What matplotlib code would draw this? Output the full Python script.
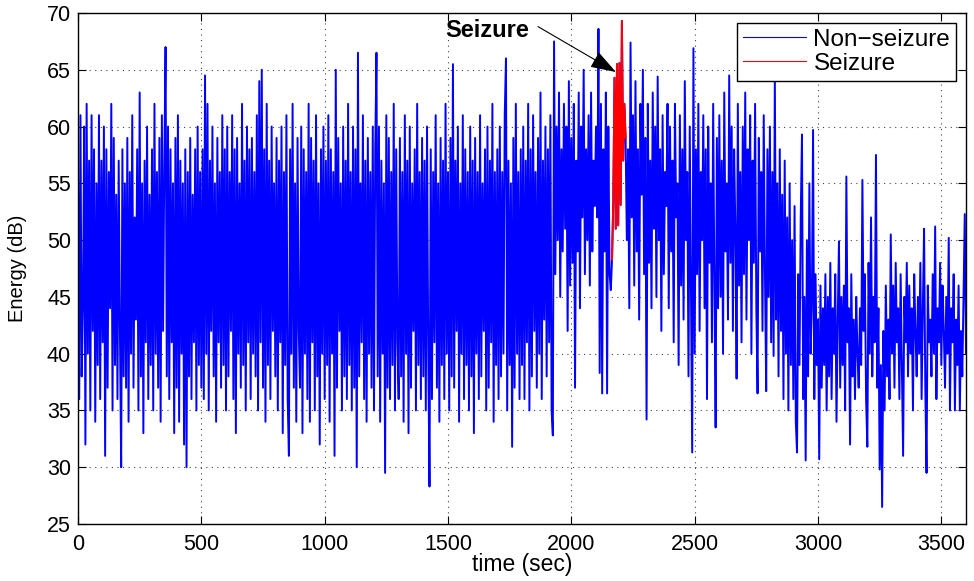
import numpy as np
import matplotlib
matplotlib.use("Agg")
import matplotlib.pyplot as plt
from matplotlib.lines import Line2D

plt.rcParams['font.family'] = ['Liberation Sans', 'DejaVu Sans']

# ---------------- data (energy in dB, one value every 5 s) ----------------
step_sec = 5
energy = [
    # 0-95
    56, 36, 61, 38, 44, 60, 32, 62, 40, 57, 35, 61, 42, 58, 34, 55, 39, 61, 36, 57,
    # 100-195
    41, 60, 31, 58, 37, 56, 44, 62, 35, 59, 39, 54, 36, 57, 42, 30, 58, 38, 55, 37,
    # 200-295
    59, 34, 56, 40, 61, 37, 52, 43, 58, 35, 63, 38, 55, 33, 57, 41, 60, 36, 54, 39,
    # 300-395
    58, 35, 62, 40, 56, 37, 59, 34, 61, 42, 57, 67, 38, 60, 36, 58, 41, 55, 33, 59,
    # 400-495
    37, 61, 34, 57, 40, 55, 32, 58, 30, 56, 38, 59, 36, 54, 41, 58, 35, 60, 39, 56,
    # 500-595
    37, 58, 36, 64.5, 40, 62, 35, 57, 42, 60, 38, 55, 34, 59, 41, 56, 37, 61, 39, 58,
    # 600-695
    35, 60, 38, 56, 42, 61, 36, 58, 33, 59, 40, 55, 37, 62, 39, 57, 35, 60, 41, 58,
    # 700-795
    36, 59, 40, 56, 38, 61, 35, 64, 41, 65, 37, 58, 34, 62, 39, 57, 36, 60, 42, 55,
    # 800-895
    38, 59, 35, 57, 41, 60, 33, 56, 39, 61, 36, 31, 58, 40, 62, 37, 55, 34, 59, 42,
    # 900-995
    37, 60, 33, 58, 40, 56, 36, 62, 34, 59, 41, 57, 35, 61, 38, 55, 32, 58, 40, 60,
    # 1000-1095
    36, 57, 39, 61, 34, 58, 40, 56, 31, 65, 37, 59, 42, 55, 35, 60, 38, 57, 36, 62,
    # 1100-1195
    39, 56, 35, 60, 37, 58, 30, 66.5, 38, 55, 41, 61, 36, 57, 34, 59, 40, 56, 37, 60,
    # 1200-1295
    35, 58, 66.5, 38, 60, 34, 57, 40, 55, 29.5, 61, 37, 59, 36, 56, 39, 62, 35, 58, 41,
    # 1300-1395
    36, 59, 38, 56, 34, 61, 40, 57, 33, 60, 37, 55, 42, 58, 35, 62, 39, 56, 36, 59,
    # 1400-1495
    38, 57, 35, 60, 40, 28.3, 58, 36, 56, 41, 61, 37, 55, 34, 59, 39, 57, 36, 62, 40,
    # 1500-1595
    56, 35, 59, 38, 65.5, 37, 57, 42, 60, 34, 55, 40, 61, 36, 58, 39, 56, 35, 60, 38,
    # 1600-1695
    57, 33, 59, 40, 56, 36, 61, 38, 55, 42, 58, 35, 60, 37, 57, 41, 62, 34, 56, 39,
    # 1700-1795
    58, 36, 60, 38, 56, 40, 61, 66, 35, 57, 39, 55, 31.8, 59, 37, 62, 40, 56, 36, 58,
    # 1800-1895
    39, 60, 36, 57, 41, 62, 35, 58, 38, 61, 42, 56, 37, 59, 40, 63, 36, 57, 43, 60,
    # 1900-1995
    38, 58, 41, 61, 35, 32.8, 67.5, 47, 60, 50, 63, 45, 58, 49, 62, 51, 60, 42, 64, 46,
    # 2000-2095
    59, 48, 62, 37, 57, 49, 63, 44, 60, 52, 65, 47, 58, 50, 61, 46, 63, 49, 57, 53,
    # 2100-2195
    60, 52, 68.6, 38.3, 62, 36.5, 58, 49, 63, 36.5, 60, 47, 45.6,
    48.3, 53.4, 64.3, 51.0, 65.5, 51.3, 65.6,
    # 2200-2295
    53.1, 69.3, 57, 62, 59, 50, 58, 44, 67.4, 52, 61, 46, 64, 49, 58, 43, 62, 54, 65, 47,
    # 2300-2395
    59, 34.2, 62, 48, 57, 44, 63, 51, 60, 45, 64.4, 50, 58, 42, 61, 47, 56, 53, 62, 44,
    # 2400-2495
    60, 49, 57, 41, 62, 52, 55, 39, 61, 46, 58, 43, 64, 50, 56, 38, 60, 45, 31.3, 66.9,
    # 2500-2595
    40, 58, 47, 62, 42, 56, 50, 61, 44, 58, 36, 60, 48, 55, 41, 62, 46, 33.5, 59, 44,
    # 2600-2695
    61, 45, 57, 40, 63, 49, 55, 43, 64.5, 48, 60, 42, 58, 51, 37.8, 62, 46, 56, 41, 60,
    # 2700-2795
    47, 63, 43, 58, 50, 61, 40, 57, 48, 62, 44, 36.5, 59, 49, 56, 42, 61, 47, 36.7, 58,
    # 2800-2895
    45, 60, 41, 56, 39.8, 64.3, 43, 55, 38, 58, 42, 54, 36, 57, 40, 52, 35, 55, 39, 50,
    # 2900-2995
    36, 53, 34, 31.3, 47, 39, 52, 59.3, 36, 45, 30.6, 50, 38, 55, 40, 44, 59.7, 36, 47, 39,
    # 3000-3095
    43, 30.7, 46, 37, 44, 39, 47, 35, 45, 38, 48, 36, 44, 40, 47, 34, 43, 49.9, 37, 45,
    # 3100-3195
    39, 46, 35, 55.6, 41, 44, 32, 47, 38, 43, 36, 45, 40, 37, 44, 39, 55.3, 42, 47, 36,
    # 3200-3295
    31.8, 48, 40, 52, 38, 45, 41, 57.5, 37, 44, 29.8, 39, 26.5, 42, 35, 46, 38, 43, 36, 50.5,
    # 3300-3395
    40, 46, 37, 48, 41, 44, 36, 47, 39, 31, 45, 41, 48, 38, 46, 40, 44, 35, 47, 42,
    # 3400-3495
    38, 45, 40, 48, 36, 44, 51, 37, 29.5, 46, 41, 43, 38, 47, 40, 51.2, 36, 44, 41, 48,
    # 3500-3600
    39, 46, 42, 37, 45, 40, 50.2, 35, 44, 41, 47, 35, 43, 39, 46, 35, 42, 38, 45, 52.3,
    40,
]
seizure_start_sec = 2165
seizure_end_sec = 2220

legend_labels = ["Non\u2212seizure", "Seizure"]
x_ticks = [0, 500, 1000, 1500, 2000, 2500, 3000, 3500]
y_ticks = [25, 30, 35, 40, 45, 50, 55, 60, 65, 70]

# ---------------- figure ----------------
time = np.arange(len(energy)) * step_sec
energy = np.array(energy, dtype=float)
seiz = (time >= seizure_start_sec) & (time <= seizure_end_sec)

fig = plt.figure(figsize=(9.74, 5.81), dpi=100)
ax = fig.add_axes([78 / 974, 1 - 524 / 581, 888 / 974, 511 / 581])

ax.plot(time, energy, color='#0000ff', lw=1.4, zorder=2)
ax.plot(time[seiz], energy[seiz], color='#ff0000', lw=1.4, zorder=3)

ax.set_xlim(0, 3600)
ax.set_ylim(25, 70)
ax.set_xticks(x_ticks)
ax.set_yticks(y_ticks)
ax.set_axisbelow(True)
ax.grid(True, linestyle=(0, (1, 4)), color='#444444', linewidth=0.8)
ax.tick_params(direction='in', top=True, right=True, length=6, width=0.8,
               labelsize=15.5, colors='k')
ax.tick_params(axis='x', pad=7)
ax.tick_params(axis='y', pad=5)
for s in ax.spines.values():
    s.set_linewidth(1.0)
    s.set_color('k')

ax.set_xlabel("time (sec)", fontsize=16.5)
ax.set_ylabel("Energy (dB)", fontsize=14.5)
ax.xaxis.set_label_coords(0.5, (524 - 565) / 511)
ax.xaxis.label.set_va('center')
ax.yaxis.set_label_coords((18 - 78) / 888, 0.5)
ax.yaxis.label.set_va('center')

# annotation
ax.text(1830, 68.5, "Seizure", fontsize=17, fontweight='bold', ha='right', va='center')
ax.annotate('', xy=(2181, 64.8), xytext=(1865, 68.8),
            arrowprops=dict(arrowstyle='-|>,head_length=0.8,head_width=0.27',
                            color='k', lw=0.8, mutation_scale=20,
                            shrinkA=0, shrinkB=0))

handles = [Line2D([0], [0], color='#0000ff', lw=0.8),
           Line2D([0], [0], color='#ff0000', lw=0.8)]
leg = ax.legend(handles, legend_labels, loc='upper right', fontsize=17.5,
                fancybox=False, framealpha=1, edgecolor='k',
                borderaxespad=0.4, handlelength=2.6, handletextpad=0.3,
                labelspacing=0.08, borderpad=0.25)
leg.get_frame().set_linewidth(1.0)

fig.savefig("out.png", dpi=100)
